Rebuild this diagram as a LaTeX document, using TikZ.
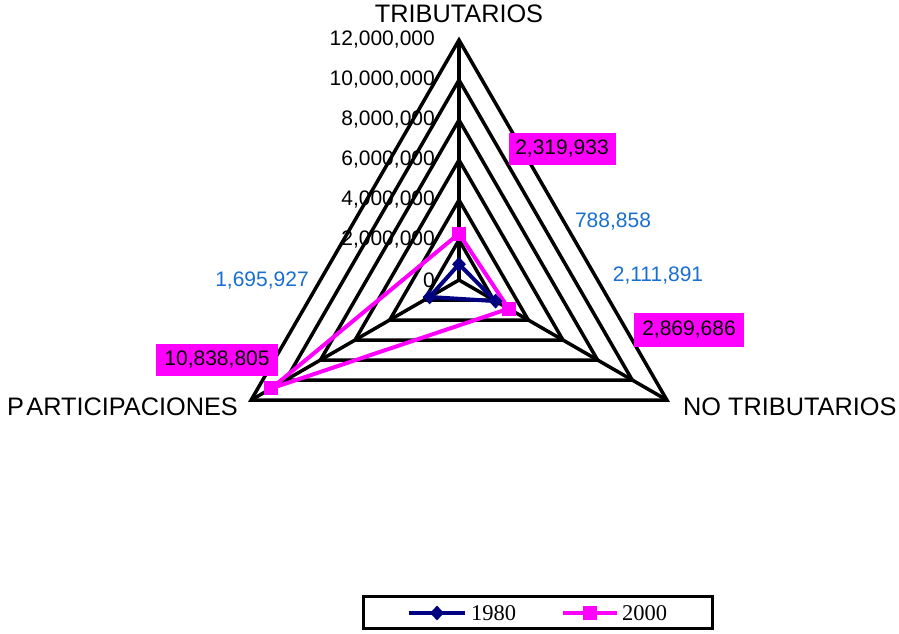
\documentclass[tikz,border=0pt]{standalone}
\usepackage{fontspec}
\setmainfont{Liberation Sans}
\newfontfamily\legfont{Liberation Serif}
\usetikzlibrary{shapes.geometric}
\definecolor{navy}{RGB}{0,0,128}
\definecolor{mag}{RGB}{255,0,255}
\definecolor{lblue}{RGB}{25,110,210}
\begin{document}
\begin{tikzpicture}[x=1pt,y=1pt,
  gridline/.style={line width=3.5pt, line join=miter},
  ticklab/.style={anchor=east, font=\fontsize{21}{24}\selectfont, inner sep=0pt},
  catlab/.style={font=\fontsize{25.3}{28}\selectfont, inner sep=0pt},
  magbox/.style={fill=mag, font=\fontsize{21}{24}\selectfont, inner sep=0pt, minimum height=32pt},
  bluelab/.style={text=lblue, font=\fontsize{21}{24}\selectfont, inner sep=0pt},
  s1980/.style={navy, line width=4pt, line join=round},
  s2000/.style={mag, line width=4pt, line join=round},
  dmark/.style={diamond, fill=navy, inner sep=0pt, minimum width=14pt, minimum height=15pt},
  smark/.style={rectangle, fill=mag, inner sep=0pt, minimum size=14pt}]
\useasboundingbox (0,0) rectangle (899,-633);
% tick labels
\node[ticklab] (t12) at (435,-40) {12,000,000};
\node[ticklab] (t10) at (435,-80) {10,000,000};
\node[ticklab] (t8) at (435,-120) {8,000,000};
\node[ticklab] (t6) at (435,-160) {6,000,000};
\node[ticklab] (t4) at (435,-200) {4,000,000};
\node[ticklab] (t2) at (435,-240) {2,000,000};
\node[ticklab] (t0) at (435,-280) {0};
% grid
\begin{scope}[shift={(459,-280)}]
  \coordinate (C) at (0,0);
  \foreach \r in {40,80,...,240}
    \draw[gridline] (90:\r pt) -- (-30:\r pt) -- (210:\r pt) -- cycle;
  \coordinate (VT) at (90:240pt);
  \coordinate (VN) at (-30:240pt);
  \coordinate (VP) at (210:240pt);
  \draw[gridline] (C) -- (VT);
  \draw[gridline] (C) -- (VN);
  \draw[gridline] (C) -- (VP);
  % data 1980
  \coordinate (a1) at (90:15.78pt);
  \coordinate (a2) at (-30:42.24pt);
  \coordinate (a3) at (210:33.92pt);
  % data 2000
  \coordinate (b1) at (90:46.40pt);
  \coordinate (b2) at (-30:57.39pt);
  \coordinate (b3) at (210:216.78pt);
\end{scope}
\draw[s1980] (a1) -- (a2) -- (a3) -- cycle;
\draw[s2000] (b1) -- (b2) -- (b3) -- cycle;
\node[dmark] (ma1) at (a1) {};
\node[dmark] (ma2) at (a2) {};
\node[dmark] (ma3) at (a3) {};
\node[smark] (mb1) at (b1) {};
\node[smark] (mb2) at (b2) {};
\node[smark] (mb3) at (b3) {};
% category labels
\node[catlab] (ct) at (459,-14) {TRIBUTARIOS};
\node[catlab, anchor=west] (cn) at (683,-407) {NO TRIBUTARIOS};
\node[catlab, anchor=east] (cp) at (238,-407) {P\kern2.5pt ARTICIPACIONES};
% data labels
\node[magbox, minimum width=107pt] (lb1) at (562,-149) {2,319,933};
\node[magbox, minimum width=110pt, minimum height=34pt] (lb2) at (689,-330) {2,869,686};
\node[magbox, minimum width=122pt] (lb3) at (217,-360) {10,838,805};
\node[bluelab] (la1) at (613,-222) {788,858};
\node[bluelab] (la2) at (658,-276) {2,111,891};
\node[bluelab] (la3) at (262,-281) {1,695,927};
% legend
\draw[line width=3pt] (363,-596) rectangle (712,-628);
\coordinate (l1s) at (409,-613);
\coordinate (l1e) at (465,-613);
\coordinate (l2s) at (563,-613);
\coordinate (l2e) at (617,-613);
\draw[s1980] (l1s) -- (l1e);
\draw[s2000] (l2s) -- (l2e);
\node[dmark] (lgm1) at (437,-613) {};
\node[smark] (lgm2) at (590,-613) {};
\node[anchor=west, inner sep=0pt, font=\legfont\fontsize{22.5}{24}\selectfont] (lg1) at (471,-613) {1980};
\node[anchor=west, inner sep=0pt, font=\legfont\fontsize{22.5}{24}\selectfont] (lg2) at (622,-613) {2000};
\end{tikzpicture}
\end{document}
